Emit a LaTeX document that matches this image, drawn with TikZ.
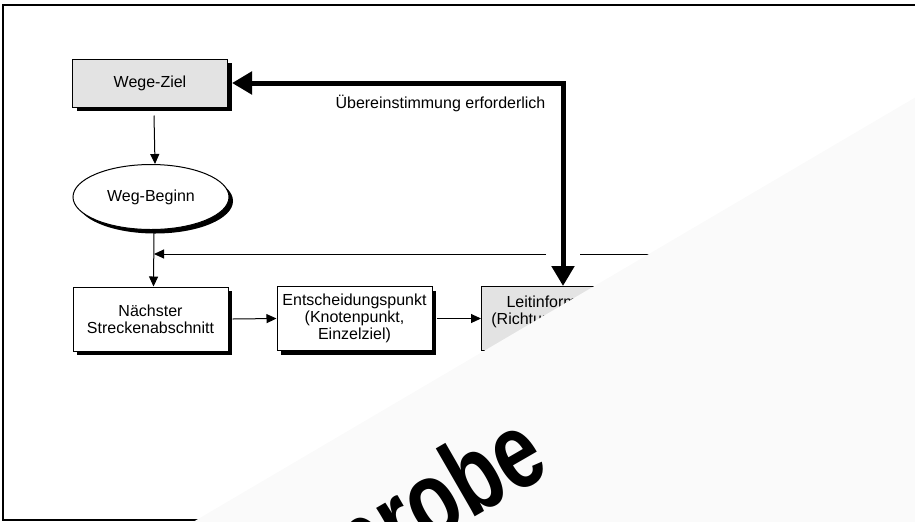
\documentclass[tikz,border=0pt]{standalone}
\usepackage{fontspec}
\setmainfont{Liberation Sans}
\usetikzlibrary{arrows.meta,shadows,shapes.geometric}

\begin{document}
\begin{tikzpicture}[x=0.5pt, y=-0.5pt,
  every node/.style={font=\fontsize{8}{8.6}\selectfont, align=center},
  schatten/.style={drop shadow={shadow xshift=2pt, shadow yshift=-2pt, fill=black, opacity=1}},
  kasten/.style={draw, line width=0.5pt, fill=white, minimum width=77.5pt, minimum height=32pt, inner sep=1pt, schatten},
  grau/.style={fill=black!11},
  pfeil/.style={-{Triangle[length=5pt, width=4.5pt]}, line width=0.5pt},
  dickpfeil/.style={{Triangle[length=10pt, width=11pt]}-{Triangle[length=10pt, width=11pt]}, line width=2.5pt}]
\useasboundingbox (0,0) rectangle (915,521);
% Rahmen
\draw[line width=1pt] (920,5) -- (2.5,5) -- (2.5,519.5) -- (920,519.5);

\node[kasten, grau, minimum height=24pt] (ziel) at (150,83) {Wege-Ziel};
\node[ellipse, draw, line width=0.5pt, fill=white, minimum width=78pt, minimum height=32.5pt, inner sep=0pt, schatten] (beginn) at (151,197) {Weg-Beginn};
\node[kasten] (naechst) at (150.5,319) {Nächster\\Streckenabschnitt};
\node[kasten] (entsch) at (354.5,318.5) {Entscheidungspunkt\\(Knotenpunkt,\\Einzelziel)};
\node[kasten, grau] (leit) at (559,318.5) {Leitinformation\\(Richtungsangabe)\\~};

\coordinate (rueck) at (720,254);
\coordinate (luecke1) at (580,254);
\coordinate (luecke2) at (546,254);
\coordinate (einmuendung) at (154,254);

\draw[pfeil] ([xshift=2pt, yshift=-4pt]ziel.south) -- ([xshift=2pt]beginn.north);
\draw[pfeil] ([xshift=1.5pt]beginn.south) -- ([xshift=1.5pt]naechst.north);
\draw[line width=0.5pt] (rueck) -- (luecke1);
\draw[pfeil] (luecke2) -- (einmuendung);
\draw[pfeil] ([xshift=2pt]naechst.east) -- (entsch.west);
\draw[pfeil] ([xshift=2pt]entsch.east) -- (leit.west);

\draw[dickpfeil] ([xshift=2pt]ziel.east) -| ([xshift=2pt]leit.north);
\node (uebereinst) at (440.5,103) {Übereinstimmung erforderlich};

% umgeschlagene Ecke
\fill[black!2] (193,522) -- (916,97) -- (916,522) -- cycle;
\node[rotate=30, xscale=0.75, anchor=base east, font=\fontsize{54}{54}\selectfont\bfseries] (probe) at (557,470) {Leseprobe};
\end{tikzpicture}
\end{document}
